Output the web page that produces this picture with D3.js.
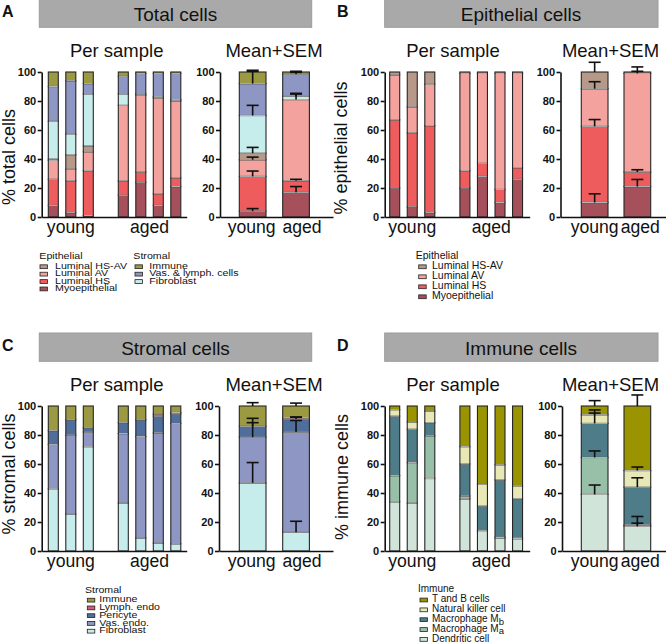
<!DOCTYPE html>
<html><head><meta charset="utf-8">
<script src="https://cdn.jsdelivr.net/npm/d3@7"></script>
<style>
body{margin:0;background:#fff}
svg{display:block}
text{font-family:"Liberation Sans",Arial,Helvetica,sans-serif;fill:#111}
</style>
</head><body>
<svg id="chart" width="666" height="643"></svg>
<script>
// ---------- shared ----------
const sampleGroups = ["young","young","young","aged","aged","aged","aged"];
const sampleSlots  = [0,1,2,4,5,6,7];
const meanGroups   = ["young","aged"];
const yTicks       = [0,20,40,60,80,100];

// ---------- A: Total cells (bottom -> top) ----------
const totalNames = ["Myoepithelial","Luminal HS","Luminal AV","Luminal HS-AV","Fibroblast","Vas. & lymph. cells","Immune"];
const totalMyo   = [8, 3, 1, 15, 24, 8, 21];
const totalHS    = [18, 22, 31, 10, 7, 8, 6];
const totalAV    = [13, 8, 13, 52, 53, 66, 53];
const totalHSAV  = [1, 10, 4, 0, 0, 0, 0];
const totalFib   = [26, 14, 36, 8, 1, 1, 1];
const totalVas   = [24, 37, 7, 12, 14, 16, 18];
const totalImm   = [10, 6, 8, 3, 1, 1, 1];
const totalMeanYoung = [4, 24, 11.5, 4.5, 26, 22, 8];
const totalSemYoung  = [1.8, 3.7, 1.8, 4, 7, 8.5, 1.2];
const totalMeanAged  = [17, 8, 56, 0, 2.5, 15, 1.5];
const totalSemAged   = [4, 1, 3.8, 0, 1.8, 1.3, 0.5];

// ---------- B: Epithelial cells ----------
const epiNames = ["Myoepithelial","Luminal HS","Luminal AV","Luminal HS-AV"];
const epiMyo   = [20, 7, 3, 20, 28, 10, 26];
const epiHS    = [47, 51, 60, 12, 9, 9, 8];
const epiAV    = [31, 18, 28.5, 67, 62, 80, 65];
const epiHSAV  = [2, 24, 8.5, 1, 1, 1, 1];
const epiMeanYoung = [10, 52.5, 26, 11.5];
const epiSemYoung  = [6, 4.7, 4.8, 6.7];
const epiMeanAged  = [21, 10, 68, 1];
const epiSemAged   = [4.9, 1.6, 4.5, 0.5];

// ---------- C: Stromal cells ----------
const strNames = ["Fibroblast","Vas. endo.","Pericyte","Lymph. endo","Immune"];
const strFib   = [43, 25.5, 72, 33, 9, 5.5, 5];
const strVas   = [30.5, 54.5, 10, 48, 70, 76, 83];
const strPeri  = [9.5, 10.5, 3, 7.5, 11.5, 11.5, 6.5];
const strLymph = [0, 0, 0, 0, 0, 1.5, 1];
const strImm   = [17, 9.5, 15, 11.5, 9.5, 5.5, 4.5];
const strMeanYoung = [47, 31.5, 7.5, 0, 14];
const strSemYoung  = [14, 13, 2.5, 0, 2.3];
const strMeanAged  = [13, 69, 9, 1, 8];
const strSemAged   = [7.5, 8, 1.3, 0.4, 2];

// ---------- D: Immune cells ----------
const immNames = ["Dendritic cell","Macrophage Ma","Macrophage Mb","Natural killer cell","T and B cells"];
const immDC = [34, 33, 50, 36, 13.5, 9, 8.5];
const immMa = [18, 28, 29.5, 2, 0.5, 0.5, 0.5];
const immMb = [41, 23, 9, 22, 17, 39.5, 27];
const immNK = [4.5, 5, 8, 12, 15, 10.5, 9];
const immTB = [2.5, 11, 3.5, 28, 54, 40.5, 55];
const immMeanYoung = [39, 25.5, 23.5, 6, 6];
const immSemYoung  = [6.5, 4.5, 9.3, 1.1, 3.7];
const immMeanAged  = [17, 1, 26, 11.5, 44.5];
const immSemAged   = [6.8, 1.2, 6.5, 2.4, 7.6];

// ---------- colours ----------
const col = {
  myo:"#a5505a", hs:"#ee5c5e", av:"#f4a29d", hsav:"#b7998a",
  fib:"#c7ecec", vas:"#8e97c4", imm:"#9b9941",
  peri:"#506e9b", lymph:"#d05c78",
  tb:"#999400", nk:"#e7e8b5", mb:"#4e7c88", ma:"#98bfa7", dc:"#d0e4d9"
};

const panels = [
 { letter:"A", title:"Total cells", ylabel:"% total cells", dy:0,
   series:[totalMyo,totalHS,totalAV,totalHSAV,totalFib,totalVas,totalImm],
   colors:[col.myo,col.hs,col.av,col.hsav,col.fib,col.vas,col.imm],
   meanY:totalMeanYoung, semY:totalSemYoung, meanA:totalMeanAged, semA:totalSemAged,
   L:{axisX:41.7, barX0:48.3, pitch:17.5, axisEnd:186.7, mAxisX:220, mAxisEnd:333, mBar:[239.3,282.7],
      boxX0:39.3, boxX1:311.7, letterX:2, titleCx:175.5, perCx:116.7, meanCx:274, ylabX:15, ylabY:157,
      mLabOff:[-1,6]},
   legend:{fs:9.2, sx:1.16, title0:259.3, row0:268.7, step:7.4, cols:[
     {title:"Epithelial", tx:39.3, sw:40, txt:55, items:[[ "Luminal HS-AV",col.hsav],["Luminal AV",col.av],["Luminal HS",col.hs],["Myoepithelial",col.myo]]},
     {title:"Stromal", tx:133.3, sw:135, txt:149.3, items:[["Immune",col.imm],["Vas. & lymph. cells",col.vas],["Fibroblast",col.fib]]}
   ]}},
 { letter:"B", title:"Epithelial cells", ylabel:"% epithelial cells", dy:0,
   series:[epiMyo,epiHS,epiAV,epiHSAV],
   colors:[col.myo,col.hs,col.av,col.hsav],
   meanY:epiMeanYoung, semY:epiSemYoung, meanA:epiMeanAged, semA:epiSemAged,
   L:{axisX:384.7, barX0:389.7, pitch:17.55, axisEnd:529.7, mAxisX:560.5, mAxisEnd:666, mBar:[581.3,624],
      boxX0:384.7, boxX1:658, letterX:337, titleCx:521, perCx:453, meanCx:610.5, ylabX:347, ylabY:148,
      mLabOff:[0,3]},
   legend:{fs:10.5, sx:1, title0:259.3, row0:269.3, step:10, cols:[
     {title:"Epithelial", tx:415.7, sw:418.7, txt:432, items:[["Luminal HS-AV",col.hsav],["Luminal AV",col.av],["Luminal HS",col.hs],["Myoepithelial",col.myo]]}
   ]}},
 { letter:"C", title:"Stromal cells", ylabel:"% stromal cells", dy:334,
   series:[strFib,strVas,strPeri,strLymph,strImm],
   colors:[col.fib,col.vas,col.peri,col.lymph,col.imm],
   meanY:strMeanYoung, semY:strSemYoung, meanA:strMeanAged, semA:strSemAged,
   L:{axisX:41.7, barX0:48.3, pitch:17.5, axisEnd:186.7, mAxisX:219, mAxisEnd:333, mBar:[239.3,282.7],
      boxX0:39.3, boxX1:311.7, letterX:2, titleCx:175.5, perCx:116.7, meanCx:274, ylabX:15, ylabY:140,
      mLabOff:[-1,6]},
   legend:{fs:9.6, sx:1.1, title0:593.3, row0:602.3, step:7.75, cols:[
     {title:"Stromal", tx:85, sw:87.3, txt:99.3, items:[["Immune",col.imm],["Lymph. endo",col.lymph],["Pericyte",col.peri],["Vas. endo.",col.vas],["Fibroblast",col.fib]]}
   ]}},
 { letter:"D", title:"Immune cells", ylabel:"% immune cells", dy:334,
   series:[immDC,immMa,immMb,immNK,immTB],
   colors:[col.dc,col.ma,col.mb,col.nk,col.tb],
   meanY:immMeanYoung, semY:immSemYoung, meanA:immMeanAged, semA:immSemAged,
   L:{axisX:384.7, barX0:389.7, pitch:17.55, axisEnd:529.7, mAxisX:562, mAxisEnd:666, mBar:[581.3,624],
      boxX0:384.7, boxX1:658, letterX:337, titleCx:521, perCx:453, meanCx:610.5, ylabX:348, ylabY:143,
      mLabOff:[0,3]},
   legend:{fs:10, sx:1, title0:592.3, row0:602.3, step:9.85, cols:[
     {title:"Immune", tx:418, sw:420, txt:432, items:[["T and B cells",col.tb],["Natural killer cell",col.nk],["Macrophage M|b",col.mb],["Macrophage M|a",col.ma],["Dendritic cell",col.dc]]}
   ]}}
];

const svg = d3.select("#chart");
const BAR_W = 10, MBAR_W = 26.7, CAP_W = 12;

function stackBar(g, x, w, vals, colors, y) {
  let cum = 0;
  const segs = [];
  vals.forEach((v,i) => { if (v > 0) segs.push({y0:cum, y1:cum+v, c:colors[i]}); cum += v; });
  g.selectAll(null).data(segs).join("rect")
    .attr("x", x).attr("width", w)
    .attr("y", d => y(d.y1)).attr("height", d => y(d.y0) - y(d.y1))
    .attr("fill", d => d.c).attr("stroke", "#262626").attr("stroke-width", 1.1);
  g.selectAll(null).data(segs.slice(1)).join("line")
    .attr("x1", x + 0.6).attr("x2", x + w - 0.6)
    .attr("y1", d => y(d.y0)).attr("y2", d => y(d.y0))
    .attr("stroke", "#f4f4f4").attr("stroke-width", 0.7);
}

panels.forEach(p => {
  const L = p.L, dy = p.dy;
  const g = svg.append("g");
  const top = 72 + dy, bottom = 217 + dy;
  const y = d3.scaleLinear().domain([0,100]).range([bottom, top]);

  // title box
  g.append("rect").attr("x", L.boxX0).attr("y", dy - 1).attr("width", L.boxX1 - L.boxX0).attr("height", 28.3)
    .attr("fill", "#a9a9a9").attr("stroke", "#9c9c9c").attr("stroke-width", 1);
  g.append("text").attr("x", L.titleCx).attr("y", 20.7 + dy).attr("text-anchor","middle")
    .attr("font-size", 19).text(p.title);
  g.append("text").attr("x", L.letterX).attr("y", 16.5 + dy).attr("font-size", 16).attr("font-weight","bold").text(p.letter);

  g.append("text").attr("x", L.perCx).attr("y", 57.3 + dy).attr("text-anchor","middle").attr("font-size", 18.5).text("Per sample");
  g.append("text").attr("x", L.meanCx).attr("y", 57.3 + dy).attr("text-anchor","middle").attr("font-size", 18.5).text("Mean+SEM");

  // y label
  g.append("text").attr("transform", `translate(${L.ylabX},${L.ylabY + dy}) rotate(-90)`)
    .attr("text-anchor","middle").attr("font-size", 18).text(p.ylabel);

  // per-sample bars
  const xs = d3.scaleLinear().domain([0,7]).range([L.barX0, L.barX0 + 7*L.pitch]);
  const gb = g.append("g");
  sampleSlots.forEach((slot, si) => {
    stackBar(gb, xs(slot), BAR_W, p.series.map(s => s[si]), p.colors, y);
  });

  // mean bars
  const xm = d3.scaleOrdinal().domain(meanGroups).range(L.mBar);
  const gm = g.append("g");
  const means = {young:[p.meanY,p.semY], aged:[p.meanA,p.semA]};
  meanGroups.forEach(gr => {
    const [m, s] = means[gr];
    stackBar(gm, xm(gr), MBAR_W, m, p.colors, y);
  });
  // error bars
  meanGroups.forEach(gr => {
    const [m, s] = means[gr];
    const cx = xm(gr) + MBAR_W/2;
    let cum = 0;
    const eb = [];
    m.forEach((v,i) => { cum += v; if (v > 0 && s[i] > 0) eb.push({t:cum, e:cum + s[i]}); });
    gm.selectAll(null).data(eb).join("line")
      .attr("x1", cx).attr("x2", cx).attr("y1", d => y(d.t)).attr("y2", d => y(d.e))
      .attr("stroke", "#111").attr("stroke-width", 1.6);
    gm.selectAll(null).data(eb).join("line")
      .attr("x1", cx - CAP_W/2).attr("x2", cx + CAP_W/2).attr("y1", d => y(d.e)).attr("y2", d => y(d.e))
      .attr("stroke", "#111").attr("stroke-width", 1.6);
  });

  // axes
  function yAxis(ax) {
    const a = g.append("g").attr("transform", `translate(${ax},0)`)
      .call(d3.axisLeft(y).tickValues(yTicks).tickSize(4).tickSizeOuter(0).tickPadding(1.5));
    a.select(".domain").attr("stroke", "#111").attr("stroke-width", 1.6);
    a.selectAll(".tick line").attr("stroke", "#111").attr("stroke-width", 1.6);
    a.selectAll(".tick text").attr("font-size", 11).attr("font-weight", "bold")
      .attr("font-family", '"Liberation Sans",Arial,sans-serif').attr("fill", "#111");
  }
  function xAxis(x0, x1) {
    const sx = d3.scaleLinear().domain([0,1]).range([x0, x1]);
    const a = g.append("g").attr("transform", `translate(0,${bottom})`)
      .call(d3.axisBottom(sx).tickValues([]).tickSizeOuter(0));
    a.select(".domain").attr("stroke", "#111").attr("stroke-width", 1.6);
  }
  xAxis(L.axisX, L.axisEnd);
  xAxis(L.mAxisX, L.mAxisEnd);
  yAxis(L.axisX);
  yAxis(L.mAxisX);

  // group labels
  const lab = 233.3 + dy;
  const youngC = (xs(0) + xs(2) + BAR_W)/2, agedC = (xs(4) + xs(7) + BAR_W)/2;
  g.append("text").attr("x", youngC).attr("y", lab).attr("text-anchor","middle").attr("font-size", 17.6).text("young");
  g.append("text").attr("x", agedC).attr("y", lab).attr("text-anchor","middle").attr("font-size", 17.6).text("aged");
  meanGroups.forEach((gr, i) => {
    g.append("text").attr("x", xm(gr) + MBAR_W/2 + L.mLabOff[i]).attr("y", lab)
      .attr("text-anchor","middle").attr("font-size", 17.6).text(gr);
  });

  // legend
  const lg = p.legend;
  lg.cols.forEach(c => {
    g.append("text").attr("transform", `translate(${c.tx},${lg.title0}) scale(${lg.sx},1)`)
      .attr("font-size", lg.fs).text(c.title);
    c.items.forEach((it, i) => {
      const by = lg.row0 + i*lg.step;
      g.append("rect").attr("x", c.sw).attr("y", by - lg.fs*0.42).attr("width", 7.5).attr("height", 3.8)
        .attr("fill", it[1]).attr("stroke", "#222").attr("stroke-width", 0.8);
      const t = g.append("text").attr("transform", `translate(${c.txt},${by}) scale(${lg.sx},1)`)
        .attr("font-size", lg.fs);
      const parts = it[0].split("|");
      t.append("tspan").text(parts[0]);
      if (parts[1]) t.append("tspan").attr("dy", 2.5).attr("font-size", lg.fs*0.95).text(parts[1]);
    });
  });
});
</script>
</body></html>
